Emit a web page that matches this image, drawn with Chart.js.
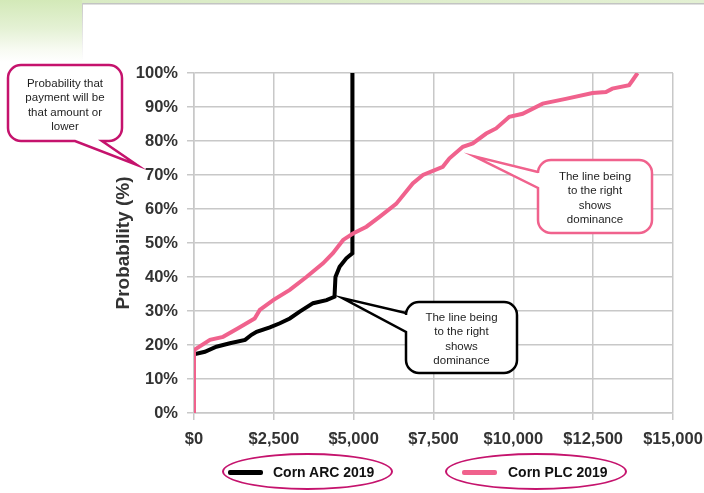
<!DOCTYPE html>
<html>
<head>
<meta charset="utf-8">
<script src="https://cdn.jsdelivr.net/npm/chart.js@4.4.0/dist/chart.umd.min.js"></script>
<style>
    html, body { margin: 0; padding: 0; background: #fff; }
    #wrap { position: relative; width: 704px; height: 493px; overflow: hidden; background: #fff; }
    #green { position: absolute; left: 0; top: 0; width: 82px; height: 62px;
        background: linear-gradient(#d3e9b8, #e4f1d4 28px, #f8fbf3 50px, #fff 62px); }
    #topband { position: absolute; left: 82px; top: 0; right: 0; height: 3px;
        background: linear-gradient(90deg, #d9ebc4, #e3f0d3); }
    #frameTop { position: absolute; left: 82px; top: 3px; right: 0; height: 2px;
        background: linear-gradient(#b4b6b4, #eeeeee); }
    #frameLeft { position: absolute; left: 82px; top: 3px; width: 1px; height: 58px;
        background: linear-gradient(#c8c8c8, #fff); }
    canvas { position: absolute; left: 0; top: 0; }
    .note { position: absolute; font-family: "Liberation Sans", Arial, sans-serif; font-size: 11.5px;
        line-height: 14.4px; text-align: center; color: #1e1e1e; }
    .leg { position: absolute; top: 453px; height: 37px; border: 2.5px solid #c5136d; border-radius: 50%;
        box-sizing: border-box; font-family: "Liberation Sans", Arial, sans-serif; font-weight: bold;
        font-size: 14px; color: #111; }
    .leg .swatch { position: absolute; top: 15px; width: 35px; height: 5px; border-radius: 2px; }
    .leg .lbl { position: absolute; top: 9px; white-space: nowrap; }
</style>
</head>
<body>
<div id="wrap">
    <div id="green"></div>
    <div id="topband"></div>
    <div id="frameTop"></div>
    <div id="frameLeft"></div>
    <canvas id="cdfChart" width="704" height="493"></canvas>

    <div class="note" style="left:8px; top:76px; width:114px;">Probability that<br>payment will be<br>that amount or<br>lower</div>
    <div class="note" style="left:538px; top:169px; width:114px;">The line being<br>to the right<br>shows<br>dominance</div>
    <div class="note" style="left:406px; top:310px; width:111px;">The line being<br>to the right<br>shows<br>dominance</div>

    <div class="leg" style="left:222px; width:171px;">
        <div class="swatch" style="left:4px; background:#000;"></div>
        <div class="lbl" style="left:49px;">Corn ARC 2019</div>
    </div>
    <div class="leg" style="left:445px; width:182px;">
        <div class="swatch" style="left:15px; background:#f0628d;"></div>
        <div class="lbl" style="left:61px;">Corn PLC 2019</div>
    </div>
</div>

<script>
// payment ($) vs cumulative probability (%)
const arcX = [0, 340, 700, 1125, 1600, 1800, 1960, 2375, 2690, 3000, 3310, 3730, 4150, 4400, 4430, 4560, 4770, 4960, 4960];
const arcY = [17.3, 18, 19.5, 20.5, 21.5, 23, 23.9, 25.2, 26.4, 27.8, 29.8, 32.3, 33.2, 34.2, 40, 43, 45.5, 47, 100];

const plcX = [0, 0, 500, 910, 1380, 1900, 2060, 2480, 3000, 3520, 4040, 4350, 4670, 4980, 5400, 5810, 6330, 6850, 7170,
    7790, 8000, 8420, 8730, 9150, 9460, 9875, 10290, 10920, 11640, 12480, 12900, 13100, 13625, 13730, 13890];
const plcY = [0, 18.5, 21.5, 22.4, 24.9, 27.8, 30.3, 33.2, 36.2, 40, 44, 47, 50.9, 52.8, 54.8, 57.7, 61.5, 67.5, 70,
    72.4, 74.9, 78.3, 79.3, 82.2, 83.7, 87.1, 88, 91, 92.4, 94.1, 94.4, 95.4, 96.4, 97.8, 100];

const xTicks = [0, 2500, 5000, 7500, 10000, 12500, 15000];
const yTicks = [0, 10, 20, 30, 40, 50, 60, 70, 80, 90, 100];

const toPoints = (xs, ys) => xs.map((x, i) => ({ x: x, y: ys[i] }));

const tickFont = { family: '"Liberation Sans", Arial, sans-serif', size: 16.5, weight: 'bold' };
const titleFont = { family: '"Liberation Sans", Arial, sans-serif', size: 19, weight: 'bold' };
const gridColor = '#c8c8c8';

// speech bubble with a tail on the bottom or left edge
function bubble(ctx, b, edge, b1, b2, tip, color) {
    const { x, y, w, h, r } = b;
    ctx.save();
    ctx.beginPath();
    ctx.moveTo(x + r, y);
    ctx.lineTo(x + w - r, y);
    ctx.arcTo(x + w, y, x + w, y + r, r);
    ctx.lineTo(x + w, y + h - r);
    ctx.arcTo(x + w, y + h, x + w - r, y + h, r);
    if (edge === 'bottom') {
        ctx.lineTo(b2, y + h);
        ctx.lineTo(tip.x, tip.y);
        ctx.lineTo(b1, y + h);
    }
    ctx.lineTo(x + r, y + h);
    ctx.arcTo(x, y + h, x, y + h - r, r);
    if (edge === 'left') {
        ctx.lineTo(x, b2);
        ctx.lineTo(tip.x, tip.y);
        ctx.lineTo(x, b1);
    }
    ctx.lineTo(x, y + r);
    ctx.arcTo(x, y, x + r, y, r);
    ctx.closePath();
    ctx.fillStyle = '#fff';
    ctx.fill();
    ctx.lineWidth = 2.5;
    ctx.strokeStyle = color;
    ctx.stroke();
    ctx.restore();
}

const calloutPlugin = {
    id: 'callouts',
    afterDraw(chart) {
        const ctx = chart.ctx;
        const xs = chart.scales.x, ys = chart.scales.y;
        bubble(ctx, { x: 8, y: 65, w: 114, h: 76, r: 13 }, 'bottom', 75, 102, { x: 137, y: 165 }, '#c5136d');
        bubble(ctx, { x: 538, y: 160, w: 114, h: 73, r: 13 }, 'left', 172, 188,
            { x: xs.getPixelForValue(8780), y: ys.getPixelForValue(75.5) }, '#f0628d');
        bubble(ctx, { x: 406, y: 302, w: 111, h: 71, r: 13 }, 'left', 313, 332,
            { x: xs.getPixelForValue(4650), y: ys.getPixelForValue(33.8) }, '#000');
    }
};

const ctx = document.getElementById('cdfChart').getContext('2d');
new Chart(ctx, {
    type: 'line',
    data: {
        datasets: [{
            label: 'Corn ARC 2019',
            data: toPoints(arcX, arcY),
            borderColor: '#000',
            borderWidth: 4,
            pointRadius: 0,
            tension: 0,
            fill: false,
            order: 1
        }, {
            label: 'Corn PLC 2019',
            data: toPoints(plcX, plcY),
            borderColor: '#f0628d',
            borderWidth: 4,
            pointRadius: 0,
            tension: 0,
            fill: false,
            order: 0
        }]
    },
    options: {
        responsive: false,
        animation: false,
        layout: { padding: { left: 100, right: 31, top: 73, bottom: 0 } },
        scales: {
            x: {
                type: 'linear',
                min: 0,
                max: 15000,
                afterBuildTicks: (s) => { s.ticks = xTicks.map(v => ({ value: v })); },
                afterFit: (s) => { s.height = 80; s.paddingLeft = 0; s.paddingRight = 0; },
                ticks: {
                    font: tickFont,
                    color: '#333',
                    padding: 10,
                    autoSkip: false,
                    maxRotation: 0,
                    callback: (v) => '$' + v.toLocaleString('en-US')
                },
                grid: { color: gridColor, lineWidth: 1.5, tickLength: 7 },
                border: { color: gridColor, width: 1.5 }
            },
            y: {
                min: 0,
                max: 100,
                afterBuildTicks: (s) => { s.ticks = yTicks.map(v => ({ value: v })); },
                afterFit: (s) => { s.width = 94; s.paddingTop = 0; s.paddingBottom = 0; },
                ticks: {
                    font: tickFont,
                    color: '#333',
                    padding: 9,
                    autoSkip: false,
                    callback: (v) => v + '%'
                },
                grid: { color: gridColor, lineWidth: 1.5, tickLength: 7 },
                border: { color: gridColor, width: 1.5 },
                title: {
                    display: true,
                    text: 'Probability (%)',
                    font: titleFont,
                    color: '#333',
                    padding: { top: 12, bottom: 0 }
                }
            }
        },
        plugins: {
            legend: { display: false },
            tooltip: { enabled: false }
        }
    },
    plugins: [calloutPlugin]
});
</script>
</body>
</html>
